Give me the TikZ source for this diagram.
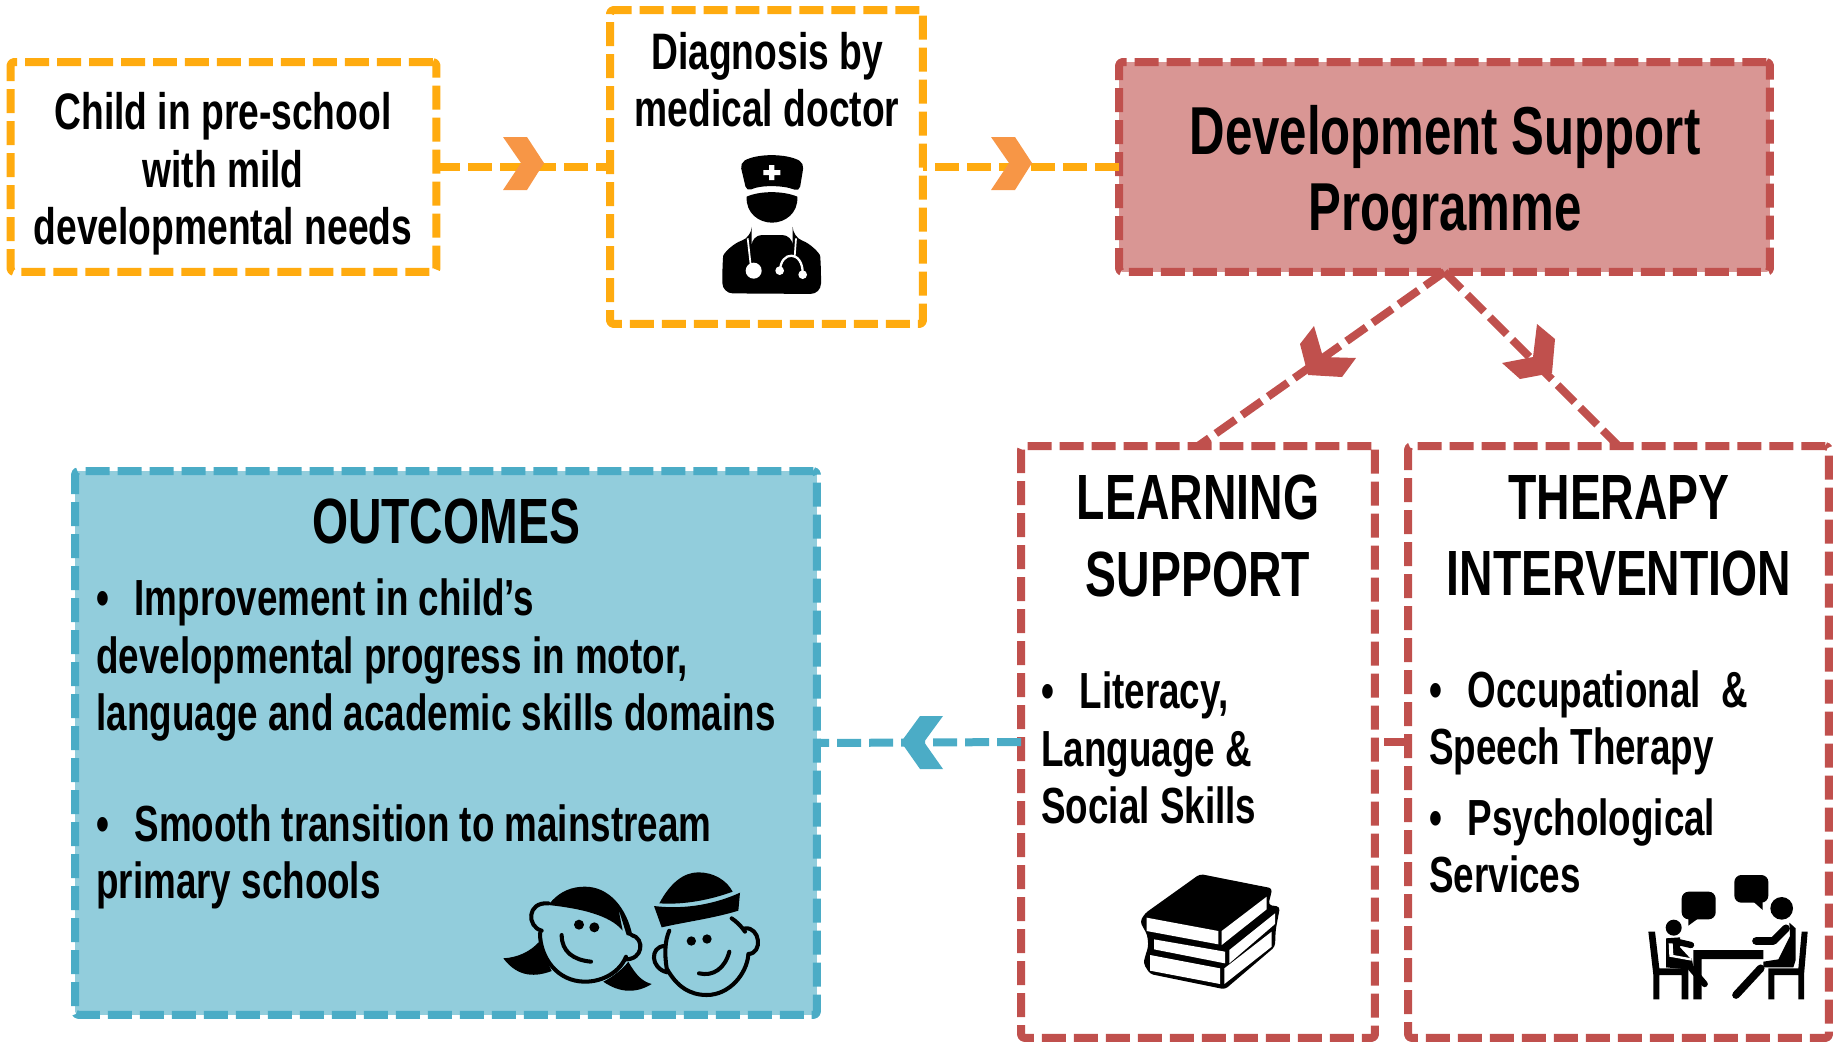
\documentclass[tikz,border=0pt]{standalone}
\usepackage{fontspec}
\setmainfont[FakeStretch=0.725,UprightFont={* Bold}]{Liberation Sans}
\definecolor{orgline}{HTML}{FFAB0F}
\definecolor{orgtip}{HTML}{F79646}
\definecolor{redline}{HTML}{C0504D}
\definecolor{redfill}{HTML}{D99694}
\definecolor{bluline}{HTML}{4BACC6}
\definecolor{blufill}{HTML}{92CDDC}
\tikzset{
	dashbox/.style={draw,rectangle,rounded corners=2pt,inner sep=0pt,outer sep=0pt,line width=0.16cm,dash pattern=on 0.48cm off 0.16cm},
	dashlink/.style={line width=0.16cm,dash pattern=on 0.48cm off 0.16cm},
	smalltxt/.style={inner sep=0pt,align=center,font=\fontsize{29.2}{32.6}\selectfont},
	bigtxt/.style={inner sep=0pt,align=center,font=\fontsize{36.4}{43.5}\selectfont},
	listtxt/.style={inner sep=0pt,align=left,anchor=west,font=\fontsize{28.9}{32.6}\selectfont},
}
\newcommand{\blt}{\textbullet\hspace{0.5em}}
\begin{document}
\begin{tikzpicture}[x=0.02cm,y=-0.02cm,line join=round]
	\useasboundingbox (0,0) rectangle (1841,1041);
	% boxes
	\node[dashbox,orgline,fill=white,minimum width=8.52cm,minimum height=4.2cm] (child) at (223.5,167) {};
	\node[dashbox,orgline,fill=white,minimum width=6.26cm,minimum height=6.28cm] (diag) at (766.5,167) {};
	\node[dashbox,redline,fill=redfill,minimum width=13.02cm,minimum height=4.2cm] (dsp) at (1444.5,167) {};
	\node[dashbox,redline,fill=white,minimum width=7.08cm,minimum height=11.84cm] (learn) at (1198,742) {};
	\node[dashbox,redline,fill=white,minimum width=8.42cm,minimum height=11.84cm] (therapy) at (1618.5,742) {};
	\node[dashbox,bluline,fill=blufill,minimum width=14.84cm,minimum height=10.88cm] (outc) at (446,743) {};
	% texts
	\node[smalltxt] (childtxt) at (223,174) {Child in pre-school\\with mild\\developmental needs};
	\node[smalltxt] (diagtxt) at (767,80) {Diagnosis by\\medical doctor};
	\node[bigtxt,font=\fontsize{38.6}{43.5}\selectfont] (dsptxt) at (1445,175) {Development Support\\Programme};
	\node[bigtxt] (learntxt) at (1198,536) {LEARNING\\SUPPORT};
	\node[bigtxt] (therapytxt) at (1619,536) {THERAPY\\INTERVENTION};
	\node[bigtxt] (outctxt) at (446,521) {OUTCOMES};
	\node[listtxt] (outca) at (96,660) {\blt Improvement in child’s\\developmental progress in motor,\\language and academic skills domains};
	\node[listtxt] (outcb) at (96,857) {\blt Smooth transition to mainstream\\primary schools};
	\node[listtxt] (learna) at (1041,748) {\blt Literacy,\\Language \&\\Social Skills};
	\node[listtxt] (thera) at (1429,723) {\blt Occupational\ \ \&\\Speech Therapy};
	\node[listtxt] (therb) at (1429,846) {\blt Psychological\\Services};
	% connectors
	\draw[dashlink,orgline] (child.east) -- (diag.west);
	\draw[dashlink,orgline,dash phase=0.4cm] (diag.east) -- (dsp.west);
	\draw[dashlink,redline] (dsp.south) -- (learn.north);
	\draw[dashlink,redline] (dsp.south) -- (therapy.north);
	\draw[dashlink,bluline] (learn.west) -- (outc.east);
	\draw[dashlink,redline] (therapy.west) -- (learn.east);
	% chevrons
	\fill[orgtip] (503,137)--(527,137)--(544,163)--(527,190)--(503,190)--(521,163)--cycle;
	\fill[orgtip] (991,137)--(1015,137)--(1032,163)--(1015,190)--(991,190)--(1009,163)--cycle;
	\fill[redline] (1314,326)--(1300,344)--(1308,375)--(1342,377)--(1356,358)--(1323,357)--cycle;
	\fill[redline] (1537,324)--(1555,339)--(1552,373)--(1520,379)--(1502,363)--(1533,357)--cycle;
	\fill[bluline] (901,742)--(920,716)--(943,716)--(924,742)--(943,769)--(920,769)--cycle;
	% doctor
	\begin{scope}[shift={(600,0)},scale=1/3]
		\fill[rounded corners=3pt] (420,490)..controls (470,460) and (560,460)..(612,490)--(598,575)..controls (550,555) and (480,555)..(440,575)--cycle;
		\fill[white] (507,495) rectangle (523,540) (490,510) rectangle (541,525);
		\fill (440,590)..controls (480,572) and (550,572)..(592,590)..controls (595,640) and (555,668)..(516,668)..controls (477,668) and (437,640)..(440,590)--cycle;
		\fill[rounded corners=6pt] (367,880)--(367,800)..controls (370,760) and (400,730)..(455,712)--(455,705)--(578,705)--(578,712)..controls (630,730) and (660,760)..(663,800)--(663,882)--cycle;
		\draw[white,line width=1pt] (443,715)--(452,795) (588,715)--(584,770);
		\fill[white] (461,812) circle (24);
		\draw[white,line width=1.3pt] (540,815)..controls (540,750) and (610,750)..(608,822);
		\fill[white] (539,812) circle (13) (608,824) circle (13);
	\end{scope}
	% kids
	\begin{scope}[shift={(480,840)},scale=1/3,line width=2.3pt,line cap=round]
		\fill (70,355)..controls (115,352) and (150,335)..(178,305)--(195,350)--(215,393)..controls (170,410) and (115,415)..(70,355)--cycle;
		\fill (370,425)..controls (400,410) and (430,385)..(445,365)..controls (470,410) and (490,425)..(515,432)..controls (470,460) and (420,460)..(370,425)--cycle;
		\draw (180,280)..controls (180,350) and (230,425)..(315,425)..controls (370,425) and (420,395)..(438,350);
		\draw (185,272)..controls (140,260) and (140,185)..(205,190);
		\draw (455,285)..controls (495,295) and (490,360)..(435,358);
		\fill (205,195)..controls (240,150) and (280,140)..(315,140)..controls (385,140) and (440,200)..(458,290)--(440,285)--(415,205)--(428,272)..controls (390,225) and (300,205)..(205,195)--cycle;
		\fill (297,254) circle (15) (343,262) circle (15);
		\draw (245,285)..controls (245,335) and (280,360)..(333,365);
		\fill (538,190)..controls (570,130) and (610,97)..(655,97)..controls (700,97) and (740,120)..(758,155)..controls (690,180) and (610,195)..(538,190)--cycle;
		\fill (522,198)..controls (620,210) and (710,190)..(780,158)--(775,212)..controls (700,235) and (620,245)..(545,262)--cycle;
		\draw (568,272)..controls (555,300) and (553,340)..(560,385)..controls (590,440) and (630,465)..(680,465)..controls (750,465) and (800,400)..(805,345);
		\draw (755,235)..controls (770,245) and (785,260)..(795,275);
		\draw (553,318)..controls (510,320) and (510,385)..(562,397);
		\draw (795,265)..controls (840,260) and (850,340)..(805,342);
		\fill (634,303) circle (14) (681,297) circle (14);
		\draw (657,400)..controls (700,410) and (735,385)..(748,335);
	\end{scope}
	% books
	\begin{scope}[shift={(1110,850)},scale=1/3]
		\fill[rounded corners=2pt] (270,72)--(487,115)--(475,165)--(510,170)--(497,240)--(495,290)--(345,418)--(120,372)--(100,340)--(108,310)--(115,290)--(112,255)--(90,215)--(105,190)--cycle;
		\fill[white] (110,203)--(325,243)--(325,283)--(110,243)--cycle (335,243)--(470,140)--(470,178)--(335,285)--cycle;
		\fill[white] (132,268)--(345,305)--(345,340)--(132,298)--cycle (358,300)--(495,190)--(495,222)--(358,340)--cycle;
		\fill[white] (120,315)--(330,355)--(330,402)--(120,362)--cycle (343,355)--(485,245)--(485,290)--(343,402)--cycle;
	\end{scope}
	% therapy table
	\begin{scope}[shift={(1630,860)},scale=1/3]
		\fill[rounded corners=4pt] (155,95) rectangle (257,178);
		\fill (175,175)--(175,197)--(205,175)--cycle;
		\fill[rounded corners=4pt] (313,45) rectangle (415,128);
		\fill (370,125)--(398,150)--(398,125)--cycle;
		\fill (131,203) circle (24) (455,145) circle (34);
		\fill (55,215)--(75,215)--(88,325)--(175,325)--(175,418)--(155,418)--(155,345)--(88,345)--(88,418)--(70,418)--(70,345)--cycle;
		\fill (533,215)--(515,215)--(505,325)--(415,325)--(415,418)--(433,418)--(433,345)--(505,345)--(505,418)--(522,418)--(522,345)--cycle;
		\fill (190,270) rectangle (400,297) (190,297) rectangle (215,418);
		\fill (108,235)--(150,232)--(150,262)--(185,300)--(108,322)--cycle;
		\fill (108,322)--(108,300)--(185,295)--(190,320)--(170,328)--cycle;
		\draw[line cap=round,line width=3.6pt] (140,245)--(183,255) (175,315)--(224,372);
		\fill[white] (116,250)--(128,250)--(130,285)--(185,295)--(185,302)--(118,290)--cycle;
		\fill (480,228)--(445,298)--(400,305)--(400,322)--(490,322)--(497,300)--(497,205)--(478,188)--cycle;
		\draw[line cap=round,line width=4.4pt] (468,205)--(430,243)--(378,243) (392,325)--(318,405);
	\end{scope}
\end{tikzpicture}
\end{document}
